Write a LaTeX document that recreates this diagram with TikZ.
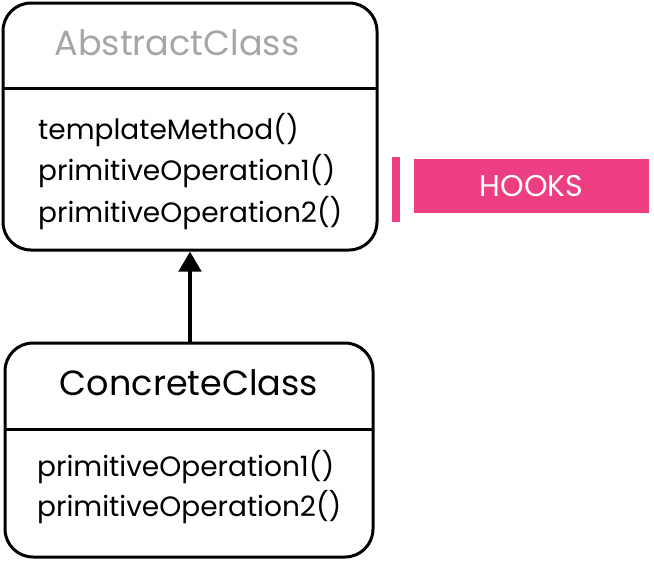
\documentclass[tikz,border=0pt]{standalone}
\usepackage{fontspec}
\setmainfont{Poppins}
\usetikzlibrary{arrows.meta}
\definecolor{hookpink}{RGB}{238,62,130}
\definecolor{titlegray}{RGB}{166,166,166}

\begin{document}
\begin{tikzpicture}[x=1pt,y=-1pt,
    classbox/.style={draw,line width=3pt,rounded corners=28pt,inner sep=0pt},
    divline/.style={line width=3pt},
    classname/.style={font=\fontsize{35}{40}\selectfont,anchor=base},
    method/.style={font=\fontsize{28}{32}\selectfont,anchor=base west,inner sep=0pt},
    inherit/.style={line width=4.5pt,-{Triangle[length=20pt,width=22pt]}}]
        \useasboundingbox (0,0) rectangle (654,563);

        % AbstractClass box
        \node[classbox,minimum width=374pt,minimum height=247pt] (abstract) at (190,126.5) {};
        \draw[divline] (3,88) -- (377,88);
        \node[classname,text=titlegray] (abstractname) at (177,55) {AbstractClass};
        \node[method] (tmethod) at (38,139) {templateMethod()};
        \node[method] (aop1) at (38,180.5) {primitiveOperation1()};
        \node[method] (aop2) at (38,222) {primitiveOperation2()};

        % ConcreteClass box
        \node[classbox,minimum width=368pt,minimum height=214pt] (concrete) at (189,450) {};
        \draw[divline] (5,429) -- (373,429);
        \node[classname] (concretename) at (189,395) {ConcreteClass};
        \node[method] (cop1) at (37,476) {primitiveOperation1()};
        \node[method] (cop2) at (37,516) {primitiveOperation2()};

        % Inheritance arrow
        \draw[inherit] (concrete.north -| 190,0) -- (abstract.south -| 190,0);

        % Hooks marker
        \node[fill=hookpink,minimum width=8pt,minimum height=65pt,inner sep=0pt] (hookbar) at (396,189.5) {};
        \node[fill=hookpink,text=white,minimum width=235pt,minimum height=54pt,inner sep=0pt,
              font=\fontsize{30}{34}\selectfont] (hooks) at (531.5,186) {HOOKS};
    \end{tikzpicture}
\end{document}
